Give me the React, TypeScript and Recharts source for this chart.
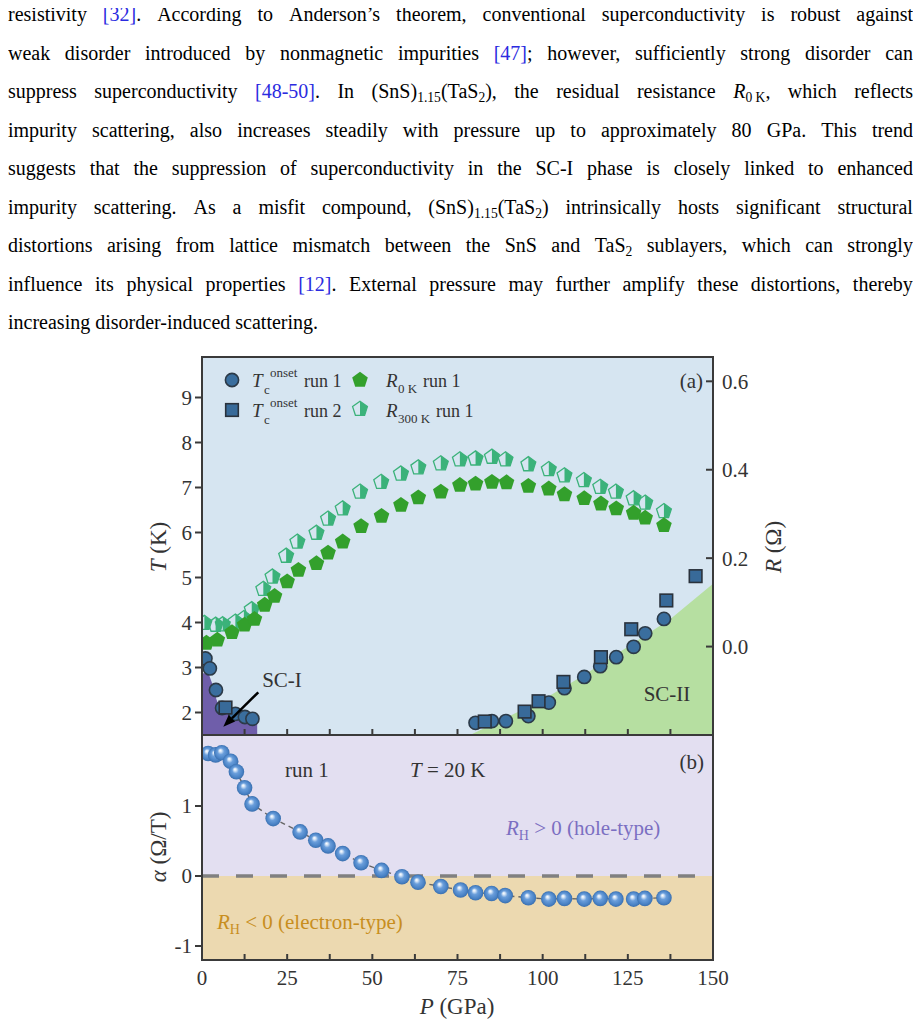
import React from 'react';
import {
  Area,
  ComposedChart,
  Line,
  ReferenceLine,
  Scatter,
  XAxis,
  YAxis
} from 'recharts';

const FONT = '"Liberation Serif", "Times New Roman", serif';
const INK = '#3a3a3a';
const LABEL = '#333333';
const TEAL = '#3bb27a';
const GREEN = '#33a02c';
const CITE = '#2b2be0';

type Pt = { p: number; v: number };
const toPts = (rows: number[][]): Pt[] => rows.map(([p, v]) => ({ p, v }));

// pressure (GPa) vs Tc onset (K)
const tcRun1 = toPts([
  [1.0, 3.2], [2.3, 2.98], [4.1, 2.5], [5.9, 2.1], [9.8, 1.97], [12.6, 1.9], [14.8, 1.86],
  [80.3, 1.77], [85.1, 1.81], [89.2, 1.81], [95.8, 1.92], [101.8, 2.22], [106.4, 2.54],
  [112.2, 2.79], [116.9, 3.03], [121.6, 3.23], [126.7, 3.46], [130.1, 3.76], [135.6, 4.08]
]);
const tcRun2 = toPts([
  [6.9, 2.11], [83.0, 1.8], [94.7, 2.02], [98.8, 2.25], [106.1, 2.68], [117.1, 3.23],
  [126.0, 3.85], [136.3, 4.49], [144.9, 5.03]
]);

// pressure (GPa) vs resistance (ohm)
const r0Run1 = toPts([
  [1.3, 0.008], [4.5, 0.015], [8.8, 0.032], [12.5, 0.049], [15.4, 0.062], [18.4, 0.094],
  [21.3, 0.114], [25.0, 0.147], [28.3, 0.173], [33.6, 0.188], [37.0, 0.212], [41.3, 0.237],
  [46.7, 0.272], [52.7, 0.295], [58.4, 0.32], [63.5, 0.337], [70.1, 0.35], [75.7, 0.365],
  [80.3, 0.368], [85.1, 0.372], [89.4, 0.371], [95.8, 0.363], [101.8, 0.357], [106.4, 0.344],
  [112.2, 0.335], [117.1, 0.323], [121.6, 0.312], [126.7, 0.302], [130.1, 0.291], [135.6, 0.274]
]);
const r300Run1 = toPts([
  [0.7, 0.053], [4.0, 0.049], [6.1, 0.05], [9.8, 0.056], [12.3, 0.064], [14.6, 0.084],
  [18.0, 0.13], [20.7, 0.158], [24.7, 0.205], [28.0, 0.237], [33.6, 0.257], [37.0, 0.289],
  [41.3, 0.312], [46.4, 0.35], [52.6, 0.372], [58.4, 0.391], [63.5, 0.405], [70.1, 0.414],
  [75.7, 0.423], [80.3, 0.425], [85.1, 0.429], [89.1, 0.423], [95.8, 0.412], [101.8, 0.401],
  [106.4, 0.387], [112.1, 0.376], [116.9, 0.361], [121.5, 0.35], [126.7, 0.335], [130.1, 0.325],
  [135.6, 0.306]
]);

// pressure (GPa) vs Hall coefficient slope alpha (ohm/T) at 20 K
const alphaRun1 = toPts([
  [1.8, 1.75], [4.0, 1.73], [5.8, 1.76], [8.4, 1.64], [10.1, 1.49], [12.5, 1.26], [14.7, 1.03],
  [20.9, 0.82], [28.8, 0.63], [33.4, 0.51], [37.0, 0.43], [41.3, 0.32], [46.7, 0.19], [52.7, 0.08],
  [58.7, -0.01], [63.4, -0.09], [70.1, -0.15], [75.9, -0.2], [80.3, -0.24], [85.0, -0.25],
  [89.0, -0.28], [95.8, -0.31], [101.8, -0.33], [106.4, -0.32], [112.2, -0.33], [116.9, -0.32],
  [121.5, -0.33], [126.7, -0.33], [130.0, -0.32], [135.6, -0.31]
]);

// upper edges of the superconducting phase regions (K)
const sc1Edge = toPts([
  [0, 2.88], [2.0, 2.85], [3.2, 2.6], [4.2, 2.3], [5.2, 2.1], [7.0, 2.02], [10.0, 1.93],
  [13.0, 1.86], [16.2, 1.84], [16.2, 1.5]
]);
const sc2Edge = toPts([
  [78.7, 1.5], [100, 2.28], [112.5, 2.85], [125, 3.46], [137.5, 4.08], [150, 4.86]
]);
const electronBand = toPts([[0, -1.2], [150, -1.2]]);

const pressureTicks = [0, 12.5, 25, 37.5, 50, 62.5, 75, 87.5, 100, 112.5, 125, 137.5, 150];
const pressureLabels = [0, 25, 50, 75, 100, 125, 150];
const tempTicks = [2, 3, 4, 5, 6, 7, 8, 9];
const resTicks = [0, 0.2, 0.4, 0.6];
const alphaTicks = [-1, 0, 1];

const P_DOMAIN: [number, number] = [0, 150];
const T_DOMAIN: [number, number] = [1.5, 9.9];
const R_DOMAIN: [number, number] = [-0.2, 0.655];
const A_DOMAIN: [number, number] = [-1.2, 2.0];

// plot boxes (container coordinates)
const PLOT_X = 194;
const PLOT_W = 511;
const A_TOP = 349;
const A_H = 378;
const B_TOP = A_TOP + A_H;
const B_H = 225;

const paragraph = [
  'resistivity [32]. According to Anderson’s theorem, conventional superconductivity is robust against',
  'weak disorder introduced by nonmagnetic impurities [47]; however, sufficiently strong disorder can',
  'suppress superconductivity [48-50]. In (SnS)1.15(TaS2), the residual resistance R0K, which reflects',
  'impurity scattering, also increases steadily with pressure up to approximately 80 GPa. This trend',
  'suggests that the suppression of superconductivity in the SC-I phase is closely linked to enhanced',
  'impurity scattering. As a misfit compound, (SnS)1.15(TaS2) intrinsically hosts significant structural',
  'distortions arising from lattice mismatch between the SnS and TaS2 sublayers, which can strongly',
  'influence its physical properties [12]. External pressure may further amplify these distortions, thereby',
  'increasing disorder-induced scattering.'
];

const SUB: React.CSSProperties = { fontSize: '0.68em', verticalAlign: '-0.3em', lineHeight: 0 };

const SPECIAL: Record<string, React.ReactNode> = {
  '(SnS)1.15(TaS2),': <>(SnS)<sub style={SUB}>1.15</sub>(TaS<sub style={SUB}>2</sub>),</>,
  '(SnS)1.15(TaS2)': <>(SnS)<sub style={SUB}>1.15</sub>(TaS<sub style={SUB}>2</sub>)</>,
  TaS2: <>TaS<sub style={SUB}>2</sub></>,
  'R0K,': <><i>R</i><sub style={SUB}>0 K</sub>,</>
};

function renderWord(w: string): React.ReactNode {
  if (SPECIAL[w]) return SPECIAL[w];
  const m = w.match(/^(\[[^\]]+\])(.*)$/);
  if (m) return <><span style={{ color: CITE }}>{m[1]}</span>{m[2]}</>;
  return w;
}

function pentagonPoints(cx: number, cy: number, r: number) {
  return [0, 1, 2, 3, 4]
    .map((k) => {
      const a = ((-90 + 72 * k) * Math.PI) / 180;
      return `${cx + r * Math.cos(a)},${cy + r * Math.sin(a)}`;
    })
    .join(' ');
}

function Pentagon({ cx, cy }: any) {
  return <polygon points={pentagonPoints(cx, cy, 8.2)} fill={GREEN} />;
}

function HalfPentagon({ cx, cy }: any) {
  const r = 7.8;
  const right = [[0, -r], [0.951 * r, -0.309 * r], [0.588 * r, 0.809 * r], [0, 0.809 * r]]
    .map(([dx, dy]) => `${cx + dx},${cy + dy}`)
    .join(' ');
  return (
    <g>
      <polygon points={right} fill={TEAL} />
      <polygon points={pentagonPoints(cx, cy, r)} fill="none" stroke={TEAL} strokeWidth={1.3} />
    </g>
  );
}

function Dot({ cx, cy }: any) {
  return <circle cx={cx} cy={cy} r={6.6} fill="#3a6e9e" stroke="#2c3a48" strokeWidth={1.6} />;
}

function Square({ cx, cy }: any) {
  return (
    <rect x={cx - 6.3} y={cy - 6.3} width={12.6} height={12.6} fill="#386a99" stroke="#2a323c" strokeWidth={1.6} />
  );
}

function Sphere({ cx, cy }: any) {
  return <circle cx={cx} cy={cy} r={7.8} fill="url(#sphereFill)" />;
}

function TickUp({ x, y }: any) {
  return <line x1={x} x2={x} y1={y} y2={y - 6} stroke={INK} strokeWidth={2} />;
}

function TickDown({ x, y }: any) {
  return <line x1={x} x2={x} y1={y} y2={y + 5} stroke={INK} strokeWidth={2} />;
}

function TickUpLabeled({ x, y, payload }: any) {
  const v = payload.value;
  return (
    <g>
      <line x1={x} x2={x} y1={y} y2={y - 6} stroke={INK} strokeWidth={2} />
      {pressureLabels.includes(v) && (
        <text x={x} y={y + 25} textAnchor="middle" fontSize={21} fill={LABEL}>
          {v}
        </text>
      )}
    </g>
  );
}

function RightTick({ x, y, payload }: any) {
  return (
    <g>
      <line x1={x - 7} x2={x} y1={y} y2={y} stroke={INK} strokeWidth={2} />
      <text x={x + 9} y={y} dy="0.35em" fontSize={21} fill={LABEL}>
        {payload.value.toFixed(1)}
      </text>
    </g>
  );
}

const tickStroke = { stroke: INK, strokeWidth: 2 };

function PanelA() {
  return (
    <ComposedChart width={905} height={400} margin={{ top: 14, right: 0, bottom: 7, left: 0 }}>
      <Area data={sc1Edge} dataKey="v" type="linear" baseValue={1.5} fill="#6f5eaa" fillOpacity={1} stroke="none" isAnimationActive={false} />
      <Area data={sc2Edge} dataKey="v" type="linear" baseValue={1.5} fill="#b6dfa1" fillOpacity={1} stroke="none" isAnimationActive={false} />
      <Scatter data={r300Run1} yAxisId="R" shape={(p: any) => <HalfPentagon cx={p.cx} cy={p.cy} />} isAnimationActive={false} />
      <Scatter data={r0Run1} yAxisId="R" shape={(p: any) => <Pentagon cx={p.cx} cy={p.cy} />} isAnimationActive={false} />
      <Scatter data={tcRun1} shape={(p: any) => <Dot cx={p.cx} cy={p.cy} />} isAnimationActive={false} />
      <Scatter data={tcRun2} shape={(p: any) => <Square cx={p.cx} cy={p.cy} />} isAnimationActive={false} />
      <XAxis
        dataKey="p" type="number" domain={P_DOMAIN} ticks={pressureTicks} interval={0}
        height={1} tickSize={0} tickMargin={0} tickLine={false} axisLine={false}
        tick={(props: any) => <TickUp {...props} />} allowDataOverflow
      />
      <YAxis
        dataKey="v" type="number" domain={T_DOMAIN} ticks={tempTicks} interval={0} width={194}
        tickSize={7} tickMargin={3} tickLine={tickStroke} axisLine={false}
        tick={{ fill: LABEL, fontSize: 21 }} allowDataOverflow
      />
      <YAxis
        yAxisId="R" orientation="right" dataKey="v" type="number" domain={R_DOMAIN} ticks={resTicks}
        interval={0} width={200} tickSize={0} tickMargin={0} tickLine={false} axisLine={false}
        tick={(props: any) => <RightTick {...props} />} allowDataOverflow
      />
    </ComposedChart>
  );
}

function PanelB() {
  return (
    <ComposedChart width={905} height={287} margin={{ top: 3, right: 0, bottom: 58, left: 0 }}>
      <Area data={electronBand} dataKey="v" type="linear" baseValue={0} fill="#ecd9b0" fillOpacity={1} stroke="none" isAnimationActive={false} />
      <ReferenceLine y={0} stroke="#808080" strokeWidth={3.5} strokeDasharray="17 17" />
      <Line data={alphaRun1} dataKey="v" type="linear" stroke="#666666" strokeWidth={1.4} strokeDasharray="5 4" dot={false} isAnimationActive={false} />
      <Scatter data={alphaRun1} shape={(p: any) => <Sphere cx={p.cx} cy={p.cy} />} isAnimationActive={false} />
      <XAxis
        dataKey="p" type="number" domain={P_DOMAIN} ticks={pressureTicks} interval={0}
        height={1} tickSize={0} tickMargin={0} tickLine={false} axisLine={false}
        tick={(props: any) => <TickUpLabeled {...props} />} allowDataOverflow
      />
      <XAxis
        xAxisId="top" orientation="top" dataKey="p" type="number" domain={P_DOMAIN} ticks={pressureTicks}
        interval={0} height={1} tickSize={0} tickMargin={0} tickLine={false} axisLine={false}
        tick={(props: any) => <TickDown {...props} />}
      />
      <YAxis
        dataKey="v" type="number" domain={A_DOMAIN} ticks={alphaTicks} interval={0} width={194}
        tickSize={7} tickMargin={3} tickLine={tickStroke} axisLine={false}
        tick={{ fill: LABEL, fontSize: 21 }} allowDataOverflow
      />
      <YAxis
        yAxisId="right" orientation="right" dataKey="v" type="number" domain={A_DOMAIN} width={200}
        tick={false} tickLine={false} axisLine={false}
      />
    </ComposedChart>
  );
}

function Annotations() {
  const sub = { fontSize: 13 } as const;
  return (
    <svg width={905} height={1012} style={{ position: 'absolute', left: 0, top: 0, pointerEvents: 'none' }} fontFamily={FONT} fill={LABEL}>
      {/* panel frames */}
      <rect x={PLOT_X} y={A_TOP} width={PLOT_W} height={A_H} fill="none" stroke={INK} strokeWidth={2} />
      <rect x={PLOT_X} y={B_TOP} width={PLOT_W} height={B_H} fill="none" stroke={INK} strokeWidth={2} />

      {/* legend */}
      <Dot cx={224} cy={372} />
      <text x={244} y={379} fontSize={19} fontStyle="italic">T</text>
      <text x={256} y={386} {...sub}>c</text>
      <text x={262} y={369} {...sub}>onset</text>
      <text x={296} y={379} fontSize={18}>run 1</text>
      <Pentagon cx={352} cy={372} />
      <text x={378} y={379} fontSize={19} fontStyle="italic">R</text>
      <text x={390} y={385} {...sub}>0 K</text>
      <text x={415} y={379} fontSize={18}>run 1</text>

      <Square cx={224} cy={402} />
      <text x={244} y={409} fontSize={19} fontStyle="italic">T</text>
      <text x={256} y={416} {...sub}>c</text>
      <text x={262} y={399} {...sub}>onset</text>
      <text x={296} y={409} fontSize={18}>run 2</text>
      <HalfPentagon cx={352} cy={401} />
      <text x={378} y={409} fontSize={19} fontStyle="italic">R</text>
      <text x={390} y={415} {...sub}>300 K</text>
      <text x={428} y={409} fontSize={18}>run 1</text>

      <text x={695} y={380} fontSize={21} textAnchor="end">(a)</text>

      {/* phase labels */}
      <text x={274} y={679} fontSize={21} textAnchor="middle">SC-I</text>
      <line x1={250.3} y1={684.3} x2={223.9} y2={710.3} stroke="#000" strokeWidth={2.5} />
      <polygon points="215.3,718.7 227.1,713.5 220.7,707.1" fill="#000" />
      <text x={659} y={693} fontSize={21} textAnchor="middle">SC-II</text>

      {/* panel b notes */}
      <text x={277} y={769} fontSize={21}>run 1</text>
      <text x={402} y={769} fontSize={21}>
        <tspan fontStyle="italic">T</tspan> = 20 K
      </text>
      <text x={696} y={761} fontSize={21} textAnchor="end">(b)</text>
      <text x={498} y={827} fontSize={21} fill="#7b6fc2">
        <tspan fontStyle="italic">R</tspan>
        <tspan fontSize={14} dy={5}>H</tspan>
        <tspan dy={-5}> &gt; 0 (hole-type)</tspan>
      </text>
      <text x={209} y={921} fontSize={21} fill="#c88e1e">
        <tspan fontStyle="italic">R</tspan>
        <tspan fontSize={14} dy={5}>H</tspan>
        <tspan dy={-5}> &lt; 0 (electron-type)</tspan>
      </text>

      {/* axis titles */}
      <text transform="translate(158,539) rotate(-90)" fontSize={23} textAnchor="middle">
        <tspan fontStyle="italic">T</tspan> (K)
      </text>
      <text transform="translate(773,539) rotate(-90)" fontSize={23} textAnchor="middle">
        <tspan fontStyle="italic">R</tspan> (Ω)
      </text>
      <text transform="translate(158,839) rotate(-90)" fontSize={23} textAnchor="middle">
        <tspan fontStyle="italic">α</tspan> (Ω/T)
      </text>
      <text x={449} y={1006} fontSize={23} textAnchor="middle">
        <tspan fontStyle="italic">P</tspan> (GPa)
      </text>
    </svg>
  );
}

export default function App() {
  return (
    <div style={{ position: 'relative', width: 905, height: 1012, fontFamily: FONT, color: '#000' }}>
      <svg width={0} height={0} style={{ position: 'absolute' }}>
        <defs>
          <radialGradient id="sphereFill" cx="50%" cy="50%" r="50%" fx="40%" fy="34%">
            <stop offset="0" stopColor="#ffffff" />
            <stop offset="0.16" stopColor="#d7e6f7" />
            <stop offset="0.42" stopColor="#6a9edb" />
            <stop offset="0.8" stopColor="#4a83c6" />
            <stop offset="1" stopColor="#3a6fae" />
          </radialGradient>
        </defs>
      </svg>

      {paragraph.map((line, i) => {
        const last = i === paragraph.length - 1;
        return (
          <div
            key={i}
            style={{
              position: 'absolute',
              left: 0,
              top: 6 + 38.5 * i - 12,
              width: 905,
              height: 24,
              lineHeight: '24px',
              fontSize: 20,
              display: 'flex',
              justifyContent: last ? 'flex-start' : 'space-between',
              gap: last ? 5 : 0,
              whiteSpace: 'nowrap'
            }}
          >
            {line.split(' ').map((w, j) => (
              <span key={j}>{renderWord(w)}</span>
            ))}
          </div>
        );
      })}

      {/* plot backgrounds */}
      <div style={{ position: 'absolute', left: PLOT_X, top: A_TOP, width: PLOT_W, height: A_H, background: '#d6e5f1' }} />
      <div style={{ position: 'absolute', left: PLOT_X, top: B_TOP, width: PLOT_W, height: B_H, background: '#e3dff1' }} />

      <div style={{ position: 'absolute', left: 0, top: 335 }}>
        <PanelA />
      </div>
      <div style={{ position: 'absolute', left: 0, top: B_TOP - 3 }}>
        <PanelB />
      </div>
      <Annotations />
    </div>
  );
}
